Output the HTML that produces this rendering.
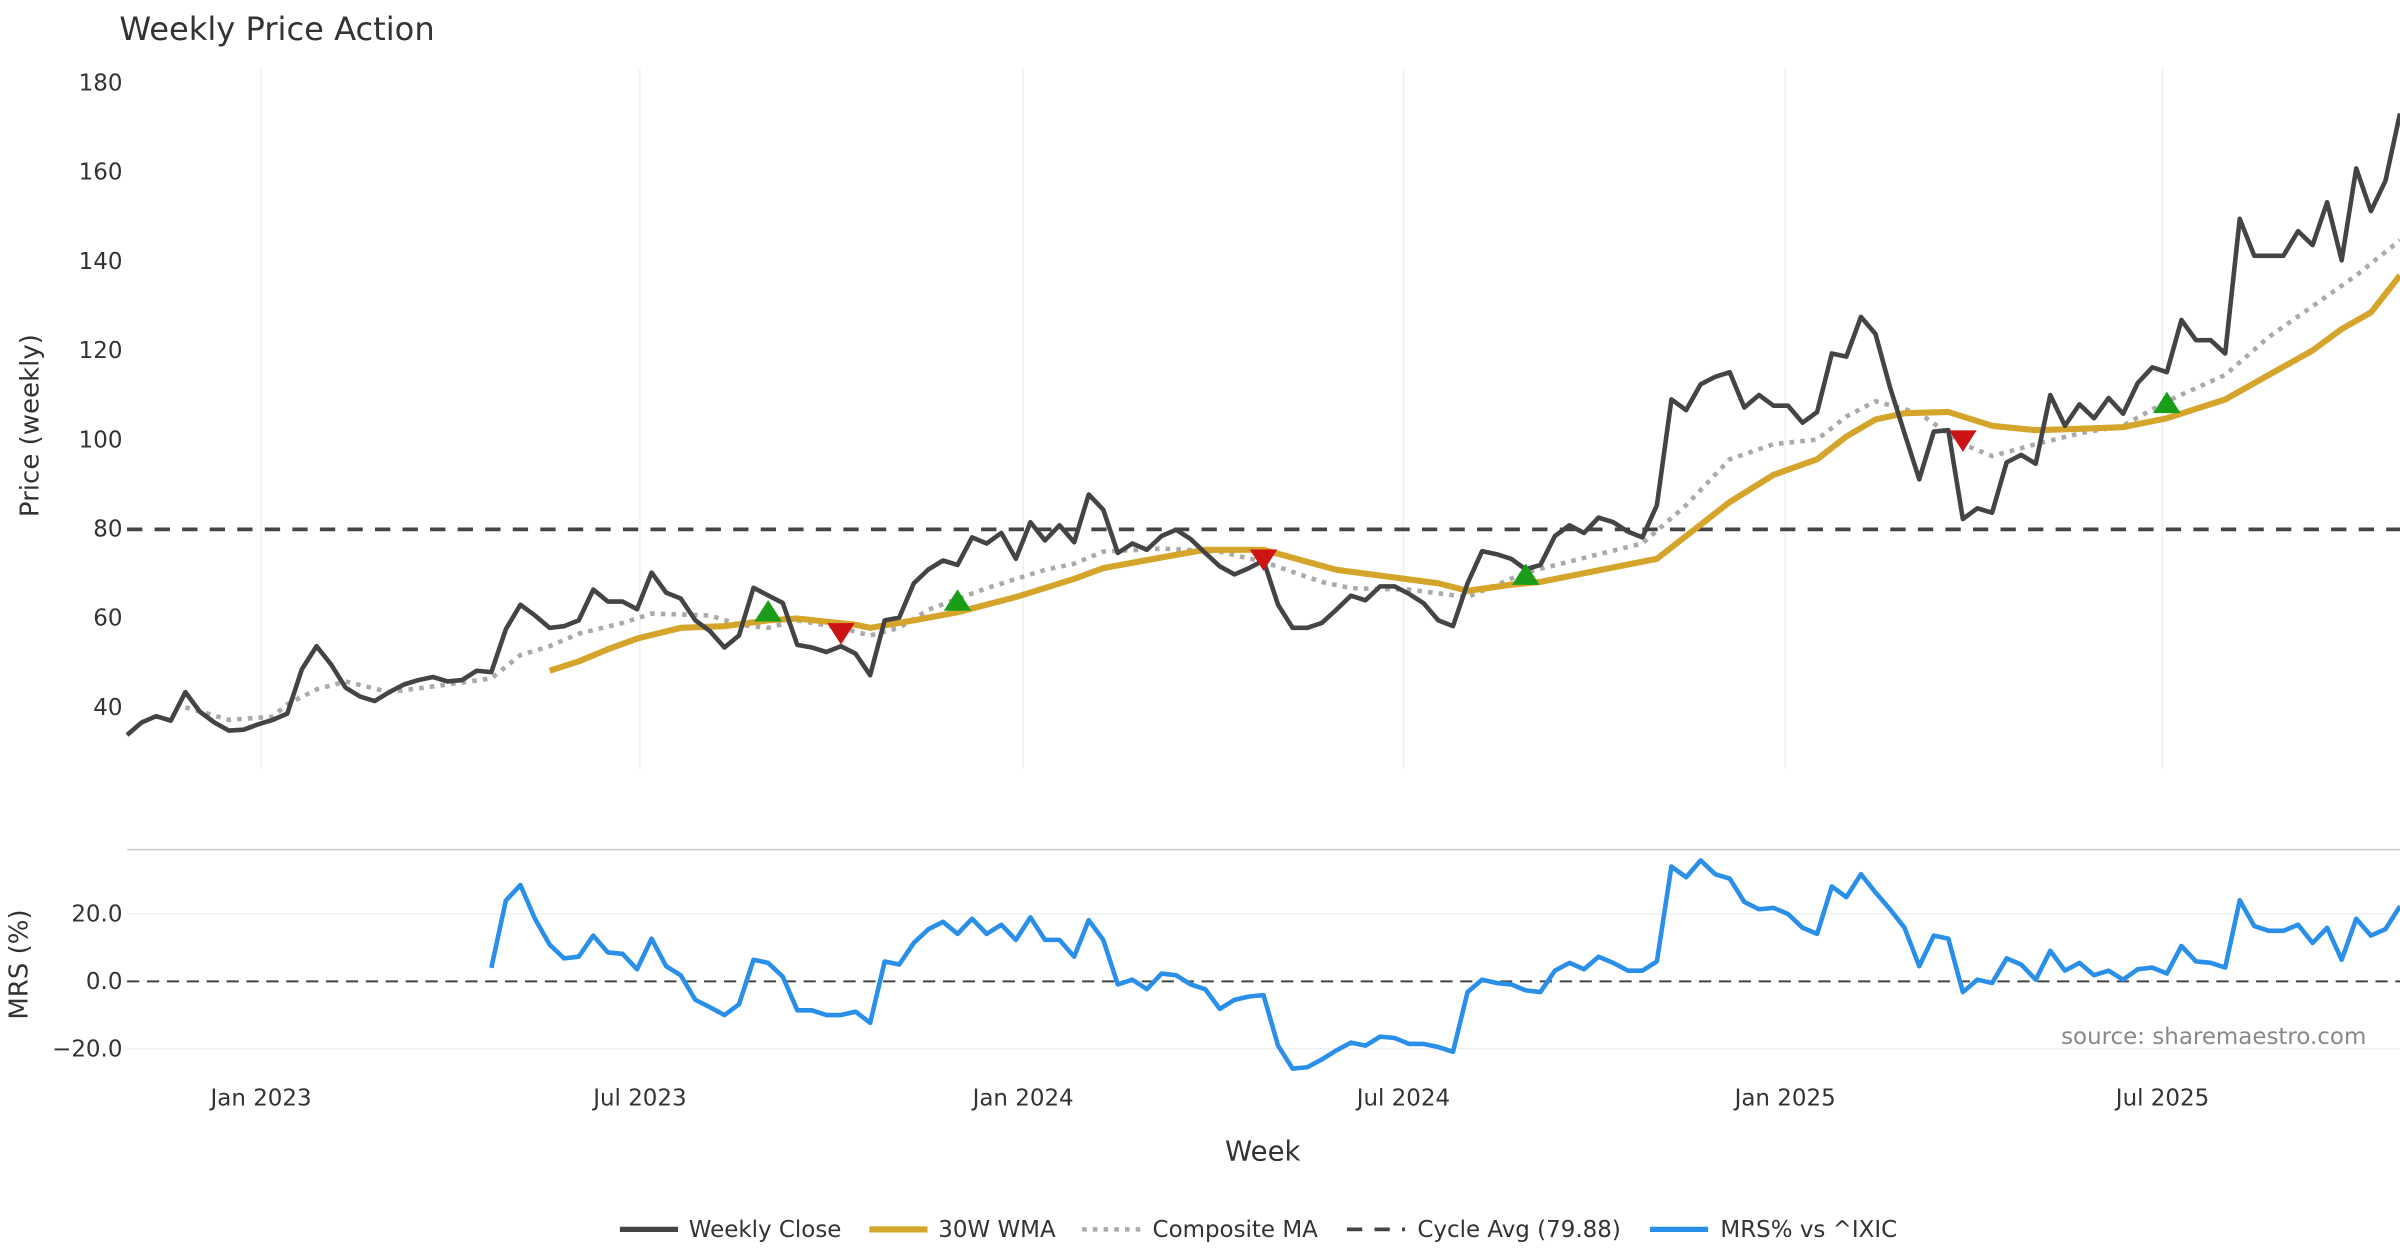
<!DOCTYPE html>
<html><head><meta charset="utf-8"><style>
html,body{margin:0;padding:0;background:#fff}
svg{display:block}
text{font-family:"DejaVu Sans","Liberation Sans",sans-serif}
</style></head><body>
<svg id="chart" width="2400" height="1260" viewBox="0 0 1568 823" preserveAspectRatio="none" xmlns="http://www.w3.org/2000/svg">
<rect x="0" y="0" width="1568" height="823" fill="#fff"/>
<text x="78" y="26" font-size="21" fill="#333">Weekly Price Action</text>
<g id="grid"></g>
<g id="axes"></g>
<g id="series"></g>
<text transform="translate(25,278) rotate(-90)" text-anchor="middle" font-size="17" fill="#333">Price (weekly)</text>
<text transform="translate(18,630) rotate(-90)" text-anchor="middle" font-size="17" fill="#333">MRS (%)</text>
<text x="825" y="758" text-anchor="middle" font-size="18" fill="#333">Week</text>
<text x="1546" y="682" text-anchor="end" font-size="15" fill="#888">source: sharemaestro.com</text>
<g id="legend">
<line x1="405" y1="803" x2="443" y2="803" stroke="#444" stroke-width="3.5"/>
<text x="450" y="808" font-size="15" fill="#333">Weekly Close</text>
<line x1="568" y1="803" x2="606" y2="803" stroke="#D4A52A" stroke-width="4"/>
<text x="613" y="808" font-size="15" fill="#333">30W WMA</text>
<line x1="707" y1="803" x2="745" y2="803" stroke="#aaa" stroke-width="3" stroke-dasharray="3,4"/>
<text x="753" y="808" font-size="15" fill="#333">Composite MA</text>
<line x1="880" y1="803" x2="918" y2="803" stroke="#444" stroke-width="2.5" stroke-dasharray="10,8"/>
<text x="926" y="808" font-size="15" fill="#333">Cycle Avg (79.88)</text>
<line x1="1078" y1="803" x2="1116" y2="803" stroke="#2a8fe8" stroke-width="3.5"/>
<text x="1124" y="808" font-size="15" fill="#333">MRS% vs ^IXIC</text>
</g>
</svg>
<script>
const closeVals=[33.8,36.6,38,37,43.4,39,36.6,34.8,35,36.2,37.2,38.6,48.5,53.7,49.6,44.4,42.4,41.4,43.4,45.1,46.1,46.8,45.8,46.1,48.2,47.9,57.5,63,60.6,57.8,58.2,59.5,66.4,63.7,63.7,62,70.2,65.7,64.4,59.5,57.1,53.4,56.1,66.8,65.1,63.4,54,53.4,52.4,53.7,52,47.2,59.5,60.1,67.8,70.9,72.9,71.9,78.1,76.7,79.1,73.3,81.5,77.4,80.8,77,87.7,84.3,74.6,76.7,75.3,78.4,79.8,77.7,74.6,71.6,69.8,71.2,72.9,63,57.8,57.8,58.9,61.9,65,64,67.1,67.1,65.4,63.3,59.5,58.2,67.8,75,74.3,73.3,70.9,71.9,78.4,80.8,79.1,82.5,81.5,79.4,78.1,85.3,109,106.6,112.4,114.1,115.1,107.2,110,107.6,107.6,103.8,106.2,119.3,118.6,127.5,123.7,111.7,101.4,91.1,101.8,102.1,82.2,84.6,83.6,94.9,96.6,94.6,110,103.1,107.9,104.8,109.3,105.8,112.7,116.2,115.1,126.8,122.3,122.3,119.3,149.5,141.2,141.2,141.2,146.7,143.6,153.2,140.2,160.8,151.2,158,173.1];
const wmaWeeks=[29,31,33,35,38,41,44,46,50,51,54,57,61,65,67,71,74,78,83,87,90,92,95,97,105,107,110,113,116,118,120,122,125,128,131,134,137,140,144,147,150,152,154,156];
const wmaVals=[48.2,50.3,53,55.4,57.8,58.2,59.5,59.9,58.5,57.8,59.5,61.3,64.7,68.8,71.2,73.6,75.3,75.3,70.8,69.1,67.8,66.1,67.5,68.1,73.3,78.4,86,92.1,95.6,100.7,104.5,105.9,106.2,103.1,102.1,102.4,102.8,104.8,109,114.5,120,124.8,128.5,136.8];
const compWeeks=[4,7,10,11,13,15,18,22,25,27,29,31,34,36,40,42,44,46,49,51,53,55,59,63,65,67,71,75,78,82,84,88,92,96,101,104,107,110,113,116,118,120,123,126,128,131,134,137,140,144,147,150,153,156];
const compVals=[40,37.2,37.9,40.7,44,45.8,43.4,45.1,46.5,51.7,53.7,56.5,58.9,61,60.6,58.5,57.8,59.5,57.8,56.1,57.8,61.9,66.7,70.8,72.2,74.9,75.6,74.9,72.6,68.1,66.7,66.4,64.7,70.2,74.3,76.7,85.3,95.6,99,100,105.2,108.6,105.9,99,96.3,99,101.4,103.1,108.6,114.5,123,129.9,136.8,144.7];
const buyWeeks=[44,57,96,140];
const buyVals=[61.3,63.7,69.5,108];
const sellWeeks=[49,78,126];
const sellVals=[56.8,73.3,100];
const cycleAvg=79.88;
const mrsVals=[4,24,28.6,18.6,10.9,6.8,7.3,13.6,8.6,8.2,3.6,12.7,4.5,1.8,-5.5,-7.7,-10,-6.8,6.4,5.5,1.4,-8.6,-8.6,-10,-10,-9,-12.3,5.9,5,11.4,15.5,17.7,14.1,18.6,14.1,16.8,12.3,19,12.3,12.3,7.3,18.2,12.3,-0.9,0.5,-2.3,2.3,1.8,-0.9,-2.3,-8.2,-5.5,-4.5,-4.1,-19.1,-25.9,-25.5,-23.2,-20.5,-18.2,-19.1,-16.4,-16.8,-18.6,-18.6,-19.5,-20.9,-3.2,0.5,-0.5,-0.9,-2.7,-3.2,3.2,5.5,3.6,7.3,5.5,3.2,3.2,5.9,34.1,30.9,35.9,31.8,30.5,23.6,21.4,21.8,20,15.9,14.1,28.2,25,31.8,26.4,21.4,15.9,4.5,13.6,12.7,-3.2,0.5,-0.5,6.8,5,0.5,9.1,3.2,5.5,1.8,3.2,0.5,3.6,4.1,2.3,10.5,5.9,5.5,4.1,24.1,16.4,15,15,16.8,11.4,15.9,6.4,18.6,13.6,15.5,22.3];
const priceTicks=[40,60,80,100,120,140,160,180];
const mrsTicks=[20,0,-20];
const mrsTickLabels=["20.0","0.0","\u221220.0"];
const monthLabels=["Jan 2023","Jul 2023","Jan 2024","Jul 2024","Jan 2025","Jul 2025"];
const monthWeeks=[9.2,35.2,61.5,87.6,113.8,139.7];

const NS="http://www.w3.org/2000/svg";
const X0=83,X1=1568;
const xW=i=>X0+i*(X1-X0)/(closeVals.length-1);
const yP=v=>54+(180-v)*(462-54)/140;
const yM=v=>641-v*2.2;
function mk(tag,attrs,parent){const e=document.createElementNS(NS,tag);for(const k in attrs)e.setAttribute(k,attrs[k]);parent.appendChild(e);return e;}
const grid=document.getElementById('grid'),axes=document.getElementById('axes'),ser=document.getElementById('series');

monthWeeks.forEach((w,k)=>{
  const gl=mk('line',{x1:xW(w),x2:xW(w),y1:45,y2:502,stroke:'#eef0f3','stroke-width':1},grid);
  
  
  const t=mk('text',{x:xW(w),y:722,'text-anchor':'middle','font-size':15,fill:'#333'},axes);
  t.textContent=monthLabels[k];
  
  
});
priceTicks.forEach(v=>{
  const t=mk('text',{x:80,y:yP(v)+5,'text-anchor':'end','font-size':15,fill:'#333'},axes);
  t.textContent=v;
  
  
});
const sep=mk('line',{x1:83,x2:1568,y1:555,y2:555,stroke:'#ccc','stroke-width':1},grid);


mrsTicks.forEach((v,k)=>{
  if(v!==0){const g=mk('line',{x1:83,x2:1568,y1:yM(v),y2:yM(v),stroke:'#eef0f3','stroke-width':1},grid);
  
  }
  const t=mk('text',{x:80,y:yM(v)+5,'text-anchor':'end','font-size':15,fill:'#333'},axes);
  t.textContent=mrsTickLabels[k];
  
  
});
const zl=mk('line',{x1:83,x2:1568,y1:yM(0),y2:yM(0),stroke:'#444','stroke-width':1.3,'stroke-dasharray':'8,5'},ser);


const cl=mk('line',{x1:83,x2:1568,y1:yP(cycleAvg),y2:yP(cycleAvg),stroke:'#444','stroke-width':2.5,'stroke-dasharray':'10,8'},ser);



function pts(ws,vs,fy){return ws.map((w,k)=>xW(w).toFixed(1)+','+fy(vs[k]).toFixed(1)).join(' ');}
const comp=mk('polyline',{points:pts(compWeeks,compVals,yP),fill:'none',stroke:'#aaa','stroke-width':3,'stroke-dasharray':'3,4'},ser);


const wma=mk('polyline',{points:pts(wmaWeeks,wmaVals,yP),fill:'none',stroke:'#D4A52A','stroke-width':4,'stroke-linejoin':'round'},ser);


const cw=closeVals.map((v,i)=>i);
const close=mk('polyline',{points:pts(cw,closeVals,yP),fill:'none',stroke:'#444','stroke-width':3,'stroke-linejoin':'round'},ser);


const mw=mrsVals.map((v,i)=>closeVals.length-mrsVals.length+i);
const mrs=mk('polyline',{points:pts(mw,mrsVals,yM),fill:'none',stroke:'#2a8fe8','stroke-width':3,'stroke-linejoin':'round'},ser);


buyWeeks.forEach((w,k)=>{
  const x=xW(w),y=yP(buyVals[k]);
  const p=mk('polygon',{points:`${x-9},${y+6} ${x+9},${y+6} ${x},${y-8}`,fill:'#1a9e1a'},ser);
  
  
});
sellWeeks.forEach((w,k)=>{
  const x=xW(w),y=yP(sellVals[k]);
  const p=mk('polygon',{points:`${x-9},${y-6} ${x+9},${y-6} ${x},${y+8}`,fill:'#cc1414'},ser);
  
  
});
</script>
</body></html>
